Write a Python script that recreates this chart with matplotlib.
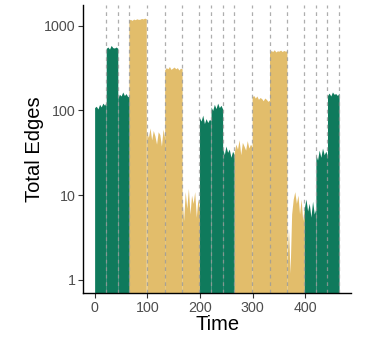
import numpy as np
import matplotlib.pyplot as plt
from matplotlib.ticker import FixedLocator, FixedFormatter

plt.rcParams['font.family'] = ['Liberation Sans', 'DejaVu Sans']

# segment boundaries (time) and which colour each segment takes
seg_edges = [0, 22, 44, 66, 99, 133, 166, 199, 221, 243, 265, 299, 332, 365, 398, 420, 442, 464]
seg_kind = ['g', 'g', 'g', 'y', 'y', 'y', 'y', 'g', 'g', 'g', 'y', 'y', 'y', 'y', 'g', 'g', 'g']

# total edges, a few samples per segment
seg_values = [
    [108, 112, 104, 118, 110, 122, 115, 125],
    [540, 560, 530, 585, 550, 545, 560, 540],
    [140, 155, 148, 165, 150, 158, 145, 150],
    [1150, 1170, 1140, 1180, 1160, 1190, 1170, 1175, 1200, 1185, 1210, 1190],
    [55, 48, 62, 45, 58, 50, 40, 56, 52, 38, 60, 47],
    [300, 320, 310, 330, 305, 315, 325, 310, 320, 300, 315, 310],
    [9, 5, 11, 7, 12, 6, 10, 8, 11, 5.5, 9, 7],
    [82, 75, 88, 70, 80, 72, 78, 76],
    [110, 100, 118, 105, 122, 108, 115, 104],
    [36, 30, 38, 32, 35, 28, 33, 30],
    [32, 40, 35, 45, 30, 42, 38, 34, 44, 36, 40, 37],
    [145, 150, 140, 148, 135, 142, 138, 130, 140, 135, 128, 132],
    [480, 510, 495, 520, 490, 505, 500, 515, 495, 510, 500, 505],
    [1.5, 4, 1.2, 6, 9, 11, 8, 10, 6, 9, 5, 7],
    [7, 9, 6.5, 8, 5.5, 8.5, 6, 7],
    [30, 26, 34, 28, 36, 30, 33, 29],
    [150, 160, 148, 165, 155, 158, 150, 160],
]

colors = {'g': '#0F7A5C', 'y': '#E2BD6B'}

fig = plt.figure(figsize=(3.74, 3.39), dpi=100)
ax = fig.add_axes([0.222, 0.136, 0.717, 0.85])

for i, vals in enumerate(seg_values):
    x = np.linspace(seg_edges[i], seg_edges[i + 1], len(vals))
    ax.fill_between(x, 0.1, vals, color=colors[seg_kind[i]], linewidth=0)

# dashed lines at the end of every segment
for e in seg_edges[1:]:
    ax.axvline(e, color='#9a9a9a', linestyle=(0, (3, 3)), linewidth=0.9, alpha=0.8)

ax.set_yscale('log')
ax.set_ylim(0.703, 1766)
ax.set_xlim(-22, 487)

ax.yaxis.set_major_locator(FixedLocator([1, 10, 100, 1000]))
ax.yaxis.set_major_formatter(FixedFormatter(['1', '10', '100', '1000']))
ax.yaxis.set_minor_locator(FixedLocator([]))
ax.set_xticks([0, 100, 200, 300, 400])

for s in ['top', 'right']:
    ax.spines[s].set_visible(False)
for s in ['left', 'bottom']:
    ax.spines[s].set_linewidth(1.0)
    ax.spines[s].set_color('black')

ax.tick_params(axis='both', labelsize=10.3, labelcolor='#4d4d4d', color='#333333',
               length=3.5, width=0.8, pad=2)

ax.set_xlabel('Time', fontsize=14.5, labelpad=0)
ax.set_ylabel('Total Edges', fontsize=14.5, labelpad=0)

plt.savefig('out.png', dpi=100)
